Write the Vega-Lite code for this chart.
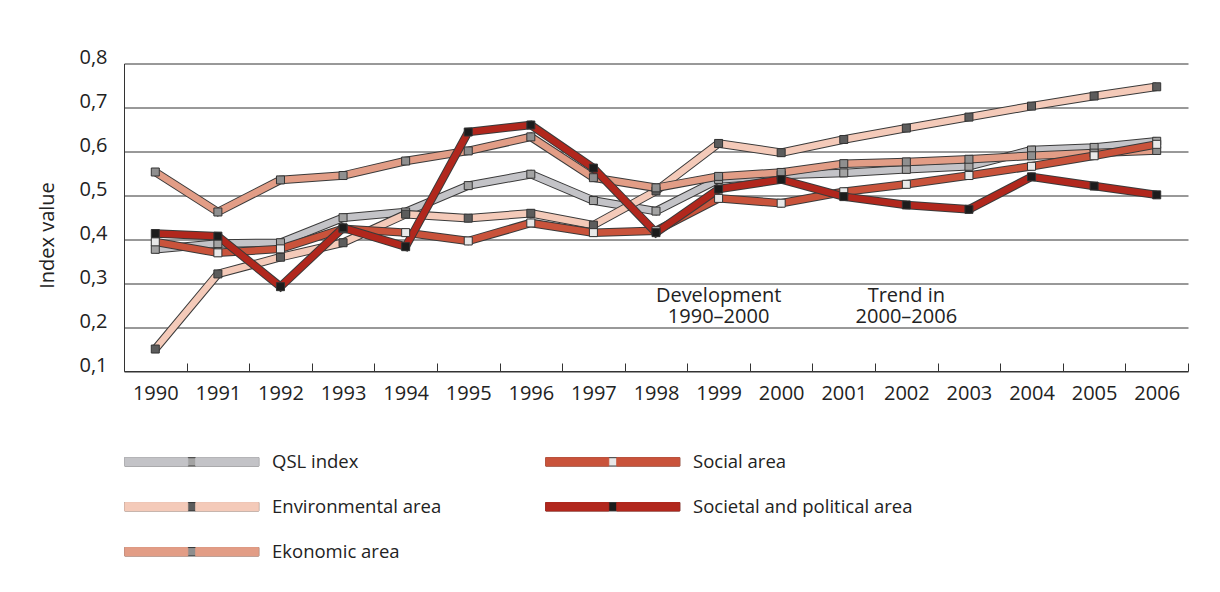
{
  "$schema": "https://vega.github.io/schema/vega-lite/v6.json",
  "autosize": {"type": "none"},
  "width": 1064,
  "height": 307.5,
  "padding": {"left": 124, "top": 63.5, "right": 32, "bottom": 221},
  "background": "white",
  "config": {
    "font": "Open Sans",
    "view": {"stroke": null}
  },
  "data": {
    "values": [
      {"year": "1990", "QSL index": 0.377, "Environmental area": 0.150, "Ekonomic area": 0.553, "Social area": 0.394, "Societal and political area": 0.413},
      {"year": "1991", "QSL index": 0.390, "Environmental area": 0.321, "Ekonomic area": 0.462, "Social area": 0.369, "Societal and political area": 0.407},
      {"year": "1992", "QSL index": 0.392, "Environmental area": 0.359, "Ekonomic area": 0.535, "Social area": 0.378, "Societal and political area": 0.292},
      {"year": "1993", "QSL index": 0.449, "Environmental area": 0.392, "Ekonomic area": 0.545, "Social area": 0.424, "Societal and political area": 0.426},
      {"year": "1994", "QSL index": 0.462, "Environmental area": 0.457, "Ekonomic area": 0.578, "Social area": 0.415, "Societal and political area": 0.383},
      {"year": "1995", "QSL index": 0.522, "Environmental area": 0.448, "Ekonomic area": 0.601, "Social area": 0.396, "Societal and political area": 0.644},
      {"year": "1996", "QSL index": 0.548, "Environmental area": 0.459, "Ekonomic area": 0.633, "Social area": 0.437, "Societal and political area": 0.660},
      {"year": "1997", "QSL index": 0.488, "Environmental area": 0.432, "Ekonomic area": 0.540, "Social area": 0.415, "Societal and political area": 0.562},
      {"year": "1998", "QSL index": 0.464, "Environmental area": 0.510, "Ekonomic area": 0.517, "Social area": 0.419, "Societal and political area": 0.415},
      {"year": "1999", "QSL index": 0.536, "Environmental area": 0.618, "Ekonomic area": 0.543, "Social area": 0.493, "Societal and political area": 0.514},
      {"year": "2000", "QSL index": 0.546, "Environmental area": 0.597, "Ekonomic area": 0.552, "Social area": 0.482, "Societal and political area": 0.536},
      {"year": "2001", "QSL index": 0.551, "Environmental area": 0.627, "Ekonomic area": 0.572, "Social area": 0.508, "Societal and political area": 0.497},
      {"year": "2002", "QSL index": 0.559, "Environmental area": 0.653, "Ekonomic area": 0.576, "Social area": 0.525, "Societal and political area": 0.478},
      {"year": "2003", "QSL index": 0.566, "Environmental area": 0.678, "Ekonomic area": 0.582, "Social area": 0.545, "Societal and political area": 0.468},
      {"year": "2004", "QSL index": 0.603, "Environmental area": 0.703, "Ekonomic area": 0.590, "Social area": 0.566, "Societal and political area": 0.542},
      {"year": "2005", "QSL index": 0.609, "Environmental area": 0.726, "Ekonomic area": 0.596, "Social area": 0.590, "Societal and political area": 0.521},
      {"year": "2006", "QSL index": 0.623, "Environmental area": 0.747, "Ekonomic area": 0.602, "Social area": 0.616, "Societal and political area": 0.501}
    ]
  },
  "transform": [
    {"fold": ["QSL index", "Environmental area", "Ekonomic area", "Social area", "Societal and political area"], "as": ["series", "value"]}
  ],
  "encoding": {
    "x": {
      "field": "year", "type": "ordinal",
      "scale": {"domain": ["1990","1991","1992","1993","1994","1995","1996","1997","1998","1999","2000","2001","2002","2003","2004","2005","2006"], "paddingInner": 0, "paddingOuter": 0},
      "axis": {"title": null, "domainColor": "#333", "tickColor": "#333", "tickSize": -8, "tickBand": "extent", "labelFontSize": 20, "labelColor": "#222", "labelPadding": 20.5, "labelAngle": 0, "grid": false}
    },
    "y": {
      "field": "value", "type": "quantitative",
      "scale": {"domain": [0.1, 0.8], "nice": false, "zero": false},
      "axis": {"values": [0.1,0.2,0.3,0.4,0.5,0.6,0.7,0.8], "grid": true, "gridColor": "#333", "gridWidth": 1, "domainColor": "#333", "ticks": false, "labelPadding": 17, "labelBaseline": "alphabetic", "labelFontSize": 20, "labelColor": "#222", "labelExpr": "replace(format(datum.value,'.1f'),'.',',')", "title": "Index value", "titleFontSize": 20, "titleFontWeight": "normal", "titleColor": "#222", "titleX": -67, "titleY": 171.5, "titleBaseline": "bottom"}
    }
  },
  "layer": [
    {
      "transform": [{"filter": "datum.series === 'QSL index'"}],
      "layer": [
        {"mark": {"type": "line", "color": "#3a3a3a", "strokeWidth": 8.5}},
        {"mark": {"type": "line", "strokeWidth": 6.5},
         "encoding": {"color": {"field": "series", "type": "nominal",
           "scale": {"domain": ["QSL index", "Environmental area", "Ekonomic area", "Social area", "Societal and political area"], "range": ["#c3c3c7", "#f4cab9", "#e29d86", "#c9533b", "#b1271d"]},
           "legend": {"orient": "none", "legendX": -4, "legendY": 389, "columns": 2, "columnPadding": 99, "rowPadding": 26, "title": null,
             "symbolType": "M-16.75,-1.05H-1V1.05H-16.75ZM1,-1.05H16.75V1.05H1Z", "symbolSize": 64, "symbolOffset": 62.5, "symbolStrokeColor": "#333", "symbolStrokeWidth": 1,
             "labelFontSize": 18.5, "labelOffset": 71, "labelColor": "#222", "labelLimit": 400, "zindex": 1,
             "encode": {"symbols": {"update": {"fill": {"scale": "color", "field": "value"}, "stroke": {"value": "#333"}, "strokeWidth": {"value": 1}}}},
             "encoding": {"symbols": {"update": {"fill": {"scale": "color", "field": "value"}, "stroke": {"value": "#333"}, "strokeWidth": {"value": 1}}}}}}}}
      ]
    },
    {
      "transform": [{"filter": "datum.series === 'Environmental area'"}],
      "layer": [
        {"mark": {"type": "line", "color": "#3a3a3a", "strokeWidth": 8.5}},
        {"mark": {"type": "line", "strokeWidth": 6.5}, "encoding": {"color": {"field": "series", "type": "nominal"}}}
      ]
    },
    {
      "transform": [{"filter": "datum.series === 'Ekonomic area'"}],
      "layer": [
        {"mark": {"type": "line", "color": "#3a3a3a", "strokeWidth": 8.5}},
        {"mark": {"type": "line", "strokeWidth": 6.5}, "encoding": {"color": {"field": "series", "type": "nominal"}}}
      ]
    },
    {
      "transform": [{"filter": "datum.series === 'Social area'"}],
      "layer": [
        {"mark": {"type": "line", "color": "#3a3a3a", "strokeWidth": 8.5}},
        {"mark": {"type": "line", "strokeWidth": 6.5}, "encoding": {"color": {"field": "series", "type": "nominal"}}}
      ]
    },
    {
      "transform": [{"filter": "datum.series === 'Societal and political area'"}],
      "layer": [
        {"mark": {"type": "line", "color": "#3a3a3a", "strokeWidth": 8.5}},
        {"mark": {"type": "line", "strokeWidth": 6.5}, "encoding": {"color": {"field": "series", "type": "nominal"}}}
      ]
    },
    {
      "mark": {"type": "point", "shape": "square", "filled": true, "size": 64, "opacity": 1, "stroke": "#333", "strokeWidth": 1},
      "encoding": {
        "fill": {"field": "series", "type": "nominal",
          "sort": ["QSL index", "Environmental area", "Ekonomic area", "Social area", "Societal and political area"],
          "scale": {"range": ["#a3a3a3", "#5c5c5c", "#8f8f8f", "#e8e8e8", "#1c1c1c"]},
          "legend": {"orient": "none", "legendX": -4, "legendY": 389, "columns": 2, "columnPadding": 99, "rowPadding": 26, "title": null,
            "symbolType": "M-16.75,-1.05H16.75V1.05H-16.75Z", "symbolSize": 64, "symbolOffset": 62.5, "symbolStrokeColor": "#333", "symbolStrokeWidth": 1,
            "labelFontSize": 18.5, "labelOffset": 71, "labelOpacity": 0, "labelLimit": 400, "zindex": 0}}
      }
    },
    {
      "data": {"values": [{"year": "2001"}]},
      "mark": {"type": "rule", "color": "#333", "strokeWidth": 1},
      "encoding": {
        "x": {"field": "year", "type": "ordinal", "bandPosition": 0},
        "y": {"datum": 0.1},
        "y2": {"datum": 0.8}
      }
    },
    {
      "data": {"values": [
        {"year": "1999", "value": 0.3, "label": ["Development", "1990–2000"]},
        {"year": "2002", "value": 0.3, "label": ["Trend in", "2000–2006"]}
      ]},
      "mark": {"type": "text", "baseline": "top", "dy": 3, "fontSize": 20, "lineHeight": 21, "color": "#222"},
      "encoding": {
        "x": {"field": "year", "type": "ordinal"},
        "y": {"field": "value", "type": "quantitative"},
        "text": {"field": "label"}
      }
    }
  ]
}
